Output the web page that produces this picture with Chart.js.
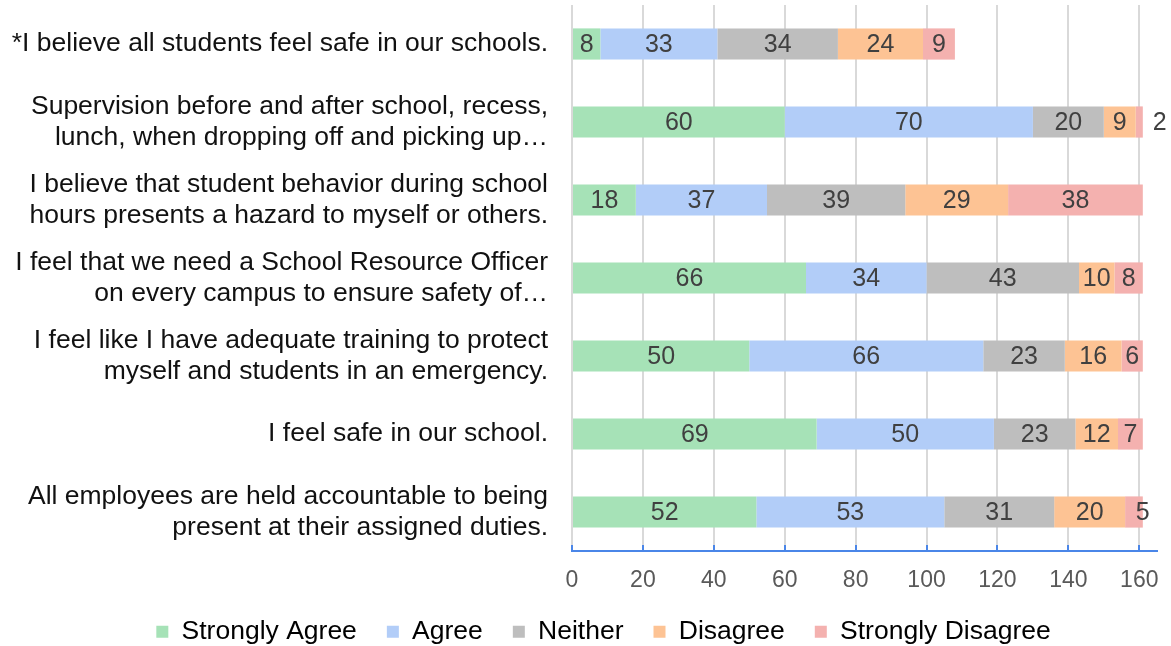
<!DOCTYPE html>
<html>
<head>
<meta charset="utf-8">
<script src="https://cdn.jsdelivr.net/npm/chart.js@4/dist/chart.umd.min.js"></script>
<style>
  body { margin: 0; background: #fff; }
  #wrap { width: 1171px; height: 646px; }
</style>
</head>
<body>
<div id="wrap"><canvas id="results"></canvas></div>
<script>
'use strict';

// survey statements, top to bottom
var questions = [
  ['*I believe all students feel safe in our schools.'],
  ['Supervision before and after school, recess,', 'lunch, when dropping off and picking up\u2026'],
  ['I believe that student behavior during school', 'hours presents a hazard to myself or others.'],
  ['I feel that we need a School Resource Officer', 'on every campus to ensure safety of\u2026'],
  ['I feel like I have adequate training to protect', 'myself and students in an emergency.'],
  ['I feel safe in our school.'],
  ['All employees are held accountable to being', 'present at their assigned duties.']
];

// response counts per statement
var stronglyAgree = [8, 60, 18, 66, 50, 69, 52];
var agree = [33, 70, 37, 34, 66, 50, 53];
var neither = [34, 20, 39, 43, 23, 23, 31];
var disagree = [24, 9, 29, 10, 16, 12, 20];
var stronglyDisagree = [9, 2, 38, 8, 6, 7, 5];

var xTicks = [0, 20, 40, 60, 80, 100, 120, 140, 160];

var FONT = "'Liberation Sans', Arial, sans-serif";

// draws the value of each segment, like excel's centered data labels
var segmentLabels = {
  id: 'segmentLabels',
  afterDatasetsDraw: function (chart) {
    var ctx = chart.ctx;
    ctx.save();
    ctx.font = '25px ' + FONT;
    ctx.fillStyle = '#404040';
    ctx.textBaseline = 'middle';
    chart.data.datasets.forEach(function (ds, i) {
      var meta = chart.getDatasetMeta(i);
      meta.data.forEach(function (bar, j) {
        var text = String(ds.data[j]);
        var tw = ctx.measureText(text).width;
        var segW = Math.abs(bar.x - bar.base);
        var y = bar.y + 1;
        if (segW >= tw + 6) {
          ctx.textAlign = 'center';
          ctx.fillText(text, (bar.x + bar.base) / 2, y);
        } else if (segW >= tw) {
          ctx.textAlign = 'center';
          ctx.fillText(text, bar.x, y);
        } else {
          ctx.textAlign = 'left';
          ctx.fillText(text, bar.x + 10, y);
        }
      });
    });
    ctx.restore();
  }
};

// small blue tick marks sitting on the x axis line
var innerTicks = {
  id: 'innerTicks',
  afterDraw: function (chart) {
    var ctx = chart.ctx;
    var xs = chart.scales.x;
    var bottom = chart.chartArea.bottom;
    ctx.save();
    ctx.strokeStyle = '#4a86e8';
    ctx.lineWidth = 2;
    xTicks.forEach(function (v) {
      var px = Math.round(xs.getPixelForValue(v));
      ctx.beginPath();
      ctx.moveTo(px, bottom - 6);
      ctx.lineTo(px, bottom);
      ctx.stroke();
    });
    ctx.restore();
  }
};

function makeSet(label, values, color) {
  return {
    label: label,
    data: values,
    backgroundColor: color,
    borderWidth: 0,
    categoryPercentage: 1,
    barPercentage: 0.4
  };
}

var c = document.getElementById('results');
var context = c.getContext('2d');

var results = new Chart(context, {
  type: 'bar',
  data: {
    labels: questions,
    datasets: [
      makeSet('Strongly Agree', stronglyAgree, '#a6e2b7'),
      makeSet('Agree', agree, '#b2cdf8'),
      makeSet('Neither', neither, '#bebebe'),
      makeSet('Disagree', disagree, '#fdc394'),
      makeSet('Strongly Disagree', stronglyDisagree, '#f4b1af')
    ]
  },
  options: {
    indexAxis: 'y',
    responsive: true,
    maintainAspectRatio: false,
    animation: false,
    // left padding only nudges the legend; the long labels spill into it
    layout: { padding: { top: 5, right: 14, left: 50, bottom: -9 } },
    scales: {
      x: {
        stacked: true,
        min: 0,
        max: 165,
        afterBuildTicks: function (scale) {
          scale.ticks = xTicks.map(function (v) { return { value: v }; });
        },
        afterFit: function (scale) {
          scale.paddingLeft = 0;
          scale.paddingRight = 0;
          scale.height = 37.5;
        },
        grid: { color: '#d9d9d9', lineWidth: 2, drawTicks: false },
        border: { color: '#4a86e8', width: 2 },
        ticks: { color: '#595959', font: { size: 23, family: FONT }, padding: 16 }
      },
      y: {
        stacked: true,
        afterFit: function (scale) {
          scale.width = 522;
          scale.paddingTop = 0;
          scale.paddingBottom = 0;
          // don't clip labels to the axis box
          scale._computeLabelArea = function () { return undefined; };
        },
        grid: { display: false, drawTicks: false },
        border: { display: false },
        ticks: { color: '#111', font: { size: 26.5, family: FONT, lineHeight: 1.15 }, padding: 24 }
      }
    },
    plugins: {
      legend: {
        position: 'bottom',
        labels: {
          boxWidth: 12,
          boxHeight: 12,
          padding: 30,
          color: '#000',
          font: { size: 26.5, family: FONT }
        }
      },
      tooltip: { enabled: false }
    }
  },
  plugins: [segmentLabels, innerTicks]
});
</script>
</body>
</html>
